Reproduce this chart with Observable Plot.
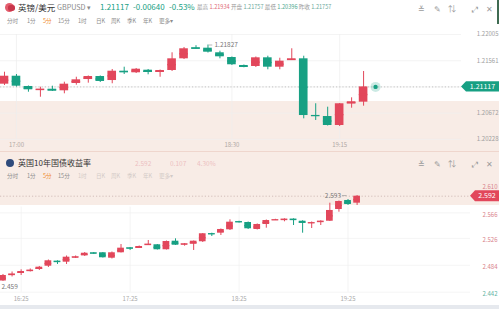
<!DOCTYPE html>
<html><head><meta charset="utf-8">
<script src="https://cdn.jsdelivr.net/npm/d3@7"></script>
<script src="https://cdn.jsdelivr.net/npm/@observablehq/plot@0.6"></script>
<style>
body{margin:0;background:#fff;font-family:"Noto Sans CJK SC","Noto Sans",sans-serif;}
#wrap{position:relative;width:499px;height:309px;overflow:hidden;background:#fff;}
.a{position:absolute;white-space:nowrap;line-height:1;}
.pl{position:absolute;left:0;}
</style></head><body><div id="wrap"></div>
<script>
// ---------- GBP/USD 5-minute candles (top panel) ----------
const gbpOpen  = [1.21163,1.21298,1.21124,1.21068,1.21078,1.21051,1.21175,1.21242,1.21293,1.21225,1.21383,1.21356,1.21400,1.21366,1.21395,1.21593,1.21780,1.21773,1.21695,1.21615,1.21480,1.21463,1.21610,1.21451,1.21570,1.21593,1.20632,1.20615,1.20463,1.20831,1.20858];
const gbpClose = [1.21298,1.21129,1.21068,1.21078,1.21051,1.21163,1.21237,1.21293,1.21209,1.21383,1.21366,1.21417,1.21361,1.21395,1.21593,1.21763,1.21763,1.21705,1.21627,1.21492,1.21451,1.21610,1.21451,1.21553,1.21593,1.20632,1.20630,1.20463,1.20831,1.20865,1.21117];
const gbpHigh  = [1.21366,1.21327,1.21132,1.21112,1.21129,1.21197,1.21281,1.21302,1.21302,1.21412,1.21451,1.21429,1.21412,1.21403,1.21695,1.21785,1.21815,1.21827,1.21722,1.21624,1.21488,1.21624,1.21637,1.21603,1.21763,1.21637,1.20831,1.20773,1.20836,1.20932,1.21378];
const gbpLow   = [1.21141,1.21115,1.21027,1.20942,1.21039,1.21000,1.21146,1.21180,1.21192,1.21170,1.21327,1.21344,1.21322,1.21281,1.21378,1.21581,1.21759,1.21691,1.21593,1.21480,1.21441,1.21446,1.21407,1.21407,1.21564,1.20576,1.20548,1.20454,1.20446,1.20756,1.20790];
const gbpCurrent = 1.21117;
const gbpCurrentLabel = "1.21117";
const gbpHighIdx = 17;
const gbpHighLabel = "1.21827";
const gbpPriceTicks = [1.22005, 1.21561, 1.21117, 1.20672, 1.20228];
const gbpTimeTickIdx = [1, 19, 28];
const gbpTimeTickLabels = ["17:00", "18:30", "19:15"];

// ---------- UK 10Y gilt yield 5-minute candles (bottom panel) ----------
const ukOpen  = [2.4595,2.4689,2.4717,2.4754,2.4775,2.4826,2.4904,2.4889,2.4962,2.4989,2.5034,2.5036,2.4951,2.5036,2.5112,2.5108,2.5161,2.5161,2.5083,2.5217,2.5165,2.5170,2.5208,2.5337,2.5342,2.5395,2.5525,2.5509,2.5400,2.5478,2.5548,2.5551,2.5561,2.5529,2.5500,2.5520,2.5529,2.5712,2.5853,2.5811];
const ukClose = [2.4681,2.4704,2.4743,2.4764,2.4811,2.4911,2.4895,2.4967,2.4972,2.5029,2.5025,2.4958,2.5036,2.5108,2.5103,2.5134,2.5170,2.5083,2.5212,2.5154,2.5175,2.5217,2.5333,2.5328,2.5400,2.5514,2.5515,2.5411,2.5478,2.5540,2.5554,2.5561,2.5551,2.5498,2.5509,2.5529,2.5697,2.5837,2.5790,2.5920];
const ukHigh  = [2.4697,2.4736,2.4770,2.4783,2.4822,2.4923,2.4911,2.4986,2.4986,2.5040,2.5040,2.5040,2.5048,2.5165,2.5118,2.5142,2.5228,2.5165,2.5220,2.5254,2.5181,2.5220,2.5337,2.5342,2.5408,2.5551,2.5528,2.5517,2.5486,2.5548,2.5559,2.5567,2.5567,2.5536,2.5517,2.5536,2.5811,2.5845,2.5868,2.5930];
const ukLow   = [2.4590,2.4658,2.4681,2.4736,2.4759,2.4806,2.4853,2.4853,2.4947,2.4978,2.5009,2.4954,2.4939,2.5033,2.5072,2.5103,2.5158,2.5079,2.5079,2.5150,2.5139,2.5072,2.5197,2.5290,2.5306,2.5384,2.5501,2.5400,2.5392,2.5420,2.5540,2.5520,2.5462,2.5342,2.5415,2.5462,2.5525,2.5670,2.5775,2.5775];
const ukCurrent = 2.592;
const ukCurrentLabel = "2.592";
const ukHighLabel = "2.593";
const ukLowLabel = "2.459";
const ukPriceTicks = [2.610, 2.566, 2.526, 2.484, 2.442];
const ukPriceTickColors = ["#d9838b","#d9838b","#d9838b","#d9838b","#62b3a2"];
const ukTimeTickIdx = [2, 14, 26, 38];
const ukTimeTickLabels = ["16:25", "17:25", "18:25", "19:25"];

// ---------- header texts ----------
const periodTabs = ["分时","1分","5分","15分","1时","日K","周K","季K","年K","更多▾"];
const periodTabX = [7, 27, 43, 58, 78, 96, 111, 127, 143, 159];
const gbpStats = [["最高","1.21934","#e06a78"],["开盘","1.21757","#6aa89a"],["最低","1.20396","#4fa890"],["昨收","1.21757","#6aa89a"]];
const toolIcons = ["≚","✎","⇅","⤢","✕"];
const toolIconX = [421, 437, 452, 475, 489];

const RED = "#e2475b", GREEN = "#17a083";
const FONT = '"Noto Sans CJK SC","Noto Sans",sans-serif';

const wrap = document.getElementById("wrap");
function addDiv(css, html){ const d=document.createElement("div"); d.className="a"; d.style.cssText=css; if(html!==undefined) d.innerHTML=html; wrap.appendChild(d); return d; }

// backgrounds
addDiv("left:0;top:101px;width:499px;height:104px;background:#f8ece6;");
addDiv("left:0;top:151px;width:499px;height:1px;background:#efd6cd;");
addDiv("left:0;top:305px;width:499px;height:4px;background:#e6e9ee;");

function candles(o, c, h, l){
  return o.map((v,i)=>({i, o:v, c:c[i], h:h[i], l:l[i], col: c[i] >= v ? RED : GREEN}));
}

function candleMarks(data, hw){
  return [
    Plot.ruleX(data, {x:"i", y1:"l", y2:"h", stroke:"col", strokeWidth:1}),
    Plot.rect(data, {x1:d=>d.i-hw, x2:d=>d.i+hw, y1:"o", y2:"c", fill:"col"}),
    Plot.ruleY(data, {y:d=>(d.o+d.c)/2, x1:d=>d.i-hw, x2:d=>d.i+hw, stroke:"col", strokeWidth:1.3})
  ];
}

function priceTag(svg, yPix, x0, color, label, hh, fs){
  const g = d3.select(svg).append("g");
  g.append("path")
    .attr("d", `M${x0},${yPix} L${x0+5},${yPix-hh} L499,${yPix-hh} L499,${yPix+hh} L${x0+5},${yPix+hh} Z`)
    .attr("fill", color);
  g.append("text").attr("x", (x0+5+499)/2).attr("y", yPix).attr("dy","0.36em")
    .attr("text-anchor","middle").attr("fill","#fff").attr("font-size",fs)
    .attr("font-family",FONT).text(label);
}

// ---------- top chart ----------
const topData = candles(gbpOpen, gbpClose, gbpHigh, gbpLow);
const topChart = Plot.plot({
  width: 499, height: 153,
  marginLeft: 0, marginRight: 38, marginTop: 34, marginBottom: 14.14,
  x: {type:"linear", domain:[-0.334, 38.18], axis:null},
  y: {type:"linear", domain:[1.20228, 1.22005], axis:null},
  color: {type:"identity"},
  style: `background:transparent;overflow:visible;font-family:${FONT};`,
  marks: [
    Plot.ruleY(gbpPriceTicks, {stroke:"#efefef", strokeWidth:0.7}),
    Plot.ruleX(gbpTimeTickIdx, {stroke:"#eeeeee", strokeWidth:0.7}),
    Plot.ruleY([gbpCurrent], {stroke:"#b8b8b8", strokeDasharray:"1.2,2", strokeWidth:0.8}),
    ...candleMarks(topData, 0.36),
    Plot.ruleY([{i:gbpHighIdx, v:gbpHigh[gbpHighIdx]}], {y:"v", x1:d=>d.i+0.1, x2:d=>d.i+0.4, stroke:"#999", strokeWidth:0.7}),
    Plot.text([{i:gbpHighIdx, v:gbpHigh[gbpHighIdx]}], {x:"i", y:"v", text:()=>gbpHighLabel, textAnchor:"start", dx:6.5, fill:"#777", fontSize:6.5}),
    Plot.dot([{i:topData.length, v:gbpCurrent}], {x:"i", y:"v", r:5, fill:GREEN, fillOpacity:0.22}),
    Plot.dot([{i:topData.length, v:gbpCurrent}], {x:"i", y:"v", r:2.2, fill:GREEN}),
    Plot.text(gbpPriceTicks.filter(d=>d!==gbpCurrent), {y:d=>d, frameAnchor:"right", textAnchor:"end", dx:37, text:d=>d.toFixed(5), fill:"#a0a0a0", fontSize:6}),
    Plot.text(gbpTimeTickIdx, {x:d=>d, frameAnchor:"bottom", dy:8, text:(d,i)=>gbpTimeTickLabels[i], fill:"#b0a8a4", fontSize:6})
  ]
});
topChart.classList.add("pl"); topChart.style.top = "0px";
wrap.appendChild(topChart);
priceTag(topChart, topChart.scale("y").apply(gbpCurrent), 461, GREEN, gbpCurrentLabel, 5.2, 7);

// ---------- bottom chart ----------
const botData = candles(ukOpen, ukClose, ukHigh, ukLow);
const botChart = Plot.plot({
  width: 499, height: 156,
  marginLeft: 0, marginRight: 29, marginTop: 31.18, marginBottom: 17.3,
  x: {type:"linear", domain:[-0.275, 51.49], axis:null},
  y: {type:"linear", domain:[2.442, 2.610], axis:null},
  color: {type:"identity"},
  style: `background:transparent;overflow:visible;font-family:${FONT};`,
  marks: [
    Plot.ruleY(ukPriceTicks.slice(1), {stroke:"#f0f0f0", strokeWidth:0.7}),
    Plot.ruleX(ukTimeTickIdx, {y1:2.442, y2:2.575, stroke:"#efefef", strokeWidth:0.7}),
    Plot.ruleY([ukCurrent], {stroke:"#c9b3ad", strokeDasharray:"1.2,2", strokeWidth:0.8}),
    ...candleMarks(botData, 0.37),
    Plot.ruleY([{i:botData.length-1, v:ukHigh[botData.length-1]}], {y:"v", x1:d=>d.i-1.62, x2:d=>d.i-1.1, stroke:"#999", strokeWidth:0.7}),
    Plot.text([{i:botData.length-1, v:ukHigh[botData.length-1]}], {x:"i", y:"v", text:()=>ukHighLabel, textAnchor:"end", dx:-16, fill:"#777", fontSize:6.5}),
    Plot.text([{i:0, v:ukLow[0]}], {x:"i", y:"v", text:()=>ukLowLabel, textAnchor:"start", dx:-1.5, dy:5.5, fill:"#777", fontSize:6.5}),
    Plot.text(ukPriceTicks, {y:d=>d, frameAnchor:"right", textAnchor:"end", dx:27, dy:2, text:d=>d.toFixed(3), fill:(d,i)=>ukPriceTickColors[i], fontSize:6}),
    Plot.text(ukTimeTickIdx, {x:d=>d, frameAnchor:"bottom", dy:9, text:(d,i)=>ukTimeTickLabels[i], fill:"#aaa", fontSize:6})
  ]
});
botChart.classList.add("pl"); botChart.style.top = "153px";
wrap.appendChild(botChart);
priceTag(botChart, botChart.scale("y").apply(ukCurrent), 470, RED, ukCurrentLabel, 5.5, 7);

// ---------- headers ----------
// top row 1
addDiv("left:5px;top:3px;width:9px;height:9px;border-radius:50%;background:#e35d6d;");
addDiv("left:8px;top:5px;width:7px;height:6px;border-radius:40%;background:#c9374b;");
addDiv("left:18px;top:2.5px;font-size:8.5px;color:#333;", "英镑/美元");
addDiv("left:57px;top:3.5px;font-size:7.2px;color:#8a8a8a;", "GBPUSD ▾");
addDiv("left:100px;top:3px;font-size:8px;color:"+GREEN+";", gbpCurrentLabel);
addDiv("left:133px;top:3px;font-size:8px;color:"+GREEN+";", "-0.00640");
addDiv("left:169px;top:3px;font-size:8px;color:"+GREEN+";", "-0.53%");
{
  let html = gbpStats.map(s=>`<span style="color:#9a9a9a">${s[0]}</span> <span style="color:${s[2]}">${s[1]}</span>`).join(" ");
  addDiv("left:197px;top:4.5px;font-size:5.6px;", html);
}
toolIcons.forEach((t,i)=>addDiv(`left:${toolIconX[i]-4}px;top:4.5px;font-size:8px;color:#9b9b9b;width:8px;text-align:center;`, t));
addDiv("left:497px;top:0px;width:2px;height:24px;background:#3f6b52;");
// top row 2
periodTabs.forEach((t,i)=>addDiv(`left:${periodTabX[i]}px;top:19px;font-size:5.6px;color:${t==="5分"?"#ef8a2e":"#8d8d8d"};`, t));

// bottom header
addDiv("left:6px;top:159px;width:8px;height:8px;border-radius:50%;background:#2f4b7c;");
addDiv("left:18px;top:158.7px;font-size:8px;color:#333;", "英国10年国债收益率");
addDiv("left:135px;top:159.5px;font-size:6.5px;color:#e08a93;opacity:0.45;", ukCurrentLabel);
addDiv("left:170px;top:159.5px;font-size:6.5px;color:#e08a93;opacity:0.45;", "0.107");
addDiv("left:197px;top:159.5px;font-size:6.5px;color:#e08a93;opacity:0.45;", "4.30%");
toolIcons.forEach((t,i)=>addDiv(`left:${toolIconX[i]-4}px;top:160px;font-size:8px;color:#9b9b9b;width:8px;text-align:center;`, t));
periodTabs.forEach((t,i)=>addDiv(`left:${periodTabX[i]}px;top:173.5px;font-size:5.6px;color:${t==="5分"?"#ef8a2e":"#8d8d8d"};opacity:${i<4?1:0.35};`, t));
</script></body></html>
